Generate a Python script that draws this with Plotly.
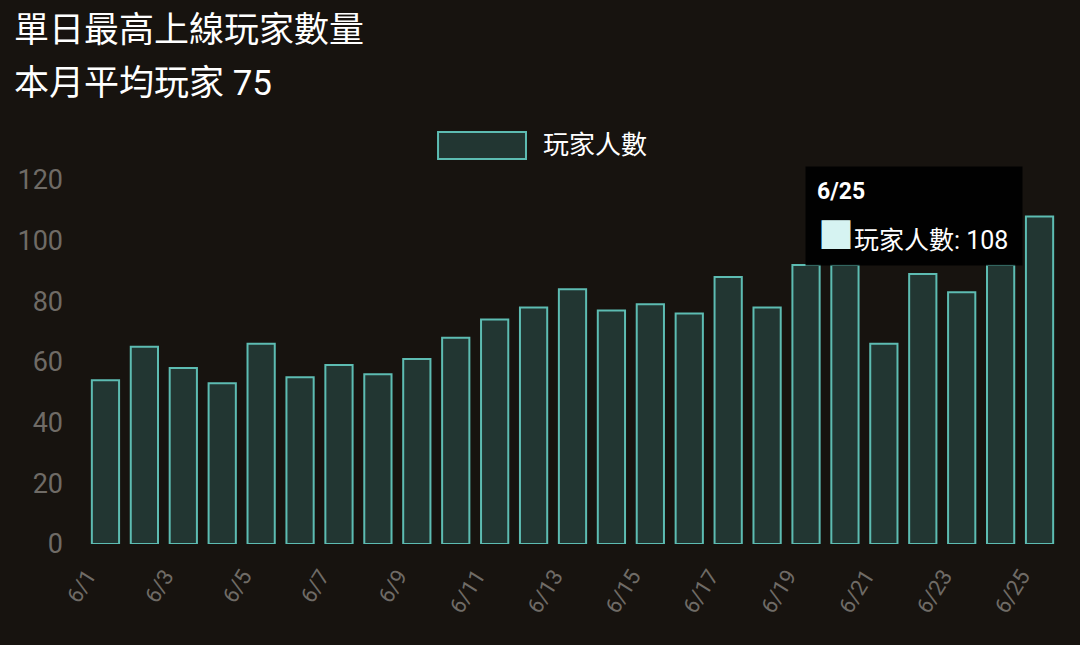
import plotly.graph_objects as go

# daily peak online players, June
dates = ['6/%d' % d for d in range(1, 26)]
players = [54, 65, 58, 53, 66, 55, 59, 56, 61, 68,
           74, 78, 84, 77, 79, 76, 88, 78, 92, 92,
           66, 89, 83, 92, 108]
series_name = '玩家人數'
title_main = '單日最高上線玩家數量'
title_sub = '本月平均玩家 75'
y_ticks = [0, 20, 40, 60, 80, 100, 120]

bg = '#17130f'
teal = '#5dbcb2'
fill = 'rgba(60,130,125,0.32)'
grey = '#6f6b66'
font = 'Roboto, Noto Sans CJK TC, sans-serif'

fig = go.Figure()
fig.add_trace(go.Bar(x=dates, y=players, name=series_name,
                     marker=dict(color=fill, line=dict(color=teal, width=2)),
                     showlegend=False))

fig.update_layout(
    width=1080, height=645,
    margin=dict(l=86, r=21, t=180, b=101),
    paper_bgcolor=bg, plot_bgcolor=bg,
    font=dict(family=font, color=grey),
    bargap=0.3,
)
fig.update_yaxes(range=[0, 120], tickvals=y_ticks, showgrid=False, zeroline=False,
                 showline=False, tickfont=dict(size=27, color=grey),
                 ticklabelstandoff=22)
fig.update_xaxes(tickvals=dates[::2], tickangle=-58, showgrid=False, showline=False,
                 tickfont=dict(size=22, color=grey), ticklabelstandoff=14,
                 ticklabelshift=-18)

# title lines
fig.add_annotation(text=title_main, xref='paper', yref='paper', x=-0.076, y=1.412,
                   xanchor='left', yanchor='middle', showarrow=False,
                   font=dict(size=35, color='white', family=font))
fig.add_annotation(text=title_sub, xref='paper', yref='paper', x=-0.076, y=1.266,
                   xanchor='left', yanchor='middle', showarrow=False,
                   font=dict(size=35, color='white', family=font))

# legend box drawn by hand (bigger than plotly's own)
fig.add_shape(type='rect', xref='paper', yref='paper', x0=0.3618, x1=0.4522,
              y0=1.058, y1=1.132, fillcolor=fill, line=dict(color=teal, width=2))
fig.add_annotation(text=series_name, xref='paper', yref='paper', x=0.4676, y=1.095,
                   xanchor='left', yanchor='middle', showarrow=False,
                   font=dict(size=26, color='white', family=font))

# hover tooltip for the last day: box + header, then the body line
fig.add_annotation(text='<b>%s</b>' % dates[-1], x=dates[-1], y=players[-1],
                   xref='x', yref='y', xanchor='right', yanchor='middle',
                   xshift=-17, showarrow=False, width=194, height=76,
                   align='left', valign='top', bgcolor='rgba(0,0,0,0.92)',
                   borderpad=11, font=dict(size=23, color='white', family=font))
fig.add_annotation(text='<span style="font-size:36px;color:#d6f3f2">■</span>%s: %d'
                   % (series_name, players[-1]),
                   x=dates[-1], y=players[-1], xref='x', yref='y',
                   xanchor='left', yanchor='middle', xshift=-224, yshift=-21,
                   showarrow=False, font=dict(size=25, color='white', family=font))

fig.write_html("out.html", config={'displayModeBar': False},
               post_script="document.body.style.margin='0';"
                           "document.body.style.background='%s';" % bg)
